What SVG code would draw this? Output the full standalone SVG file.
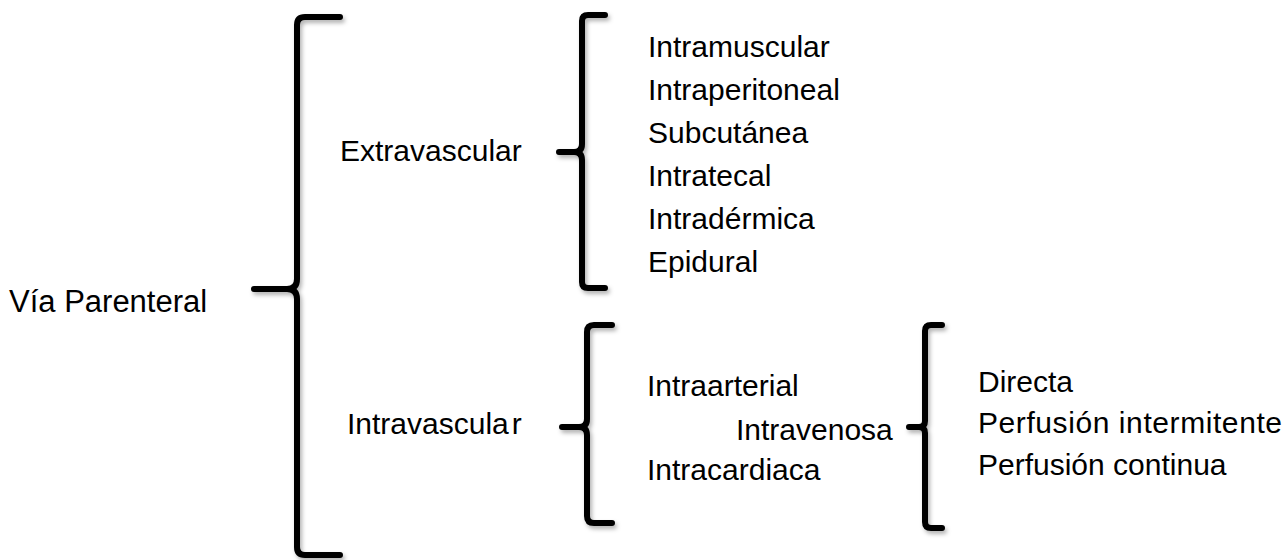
<svg xmlns="http://www.w3.org/2000/svg" width="1287" height="560" viewBox="0 0 1287 560">
  <defs>
    <filter id="soft" x="-20%" y="-5%" width="160%" height="115%">
      <feDropShadow dx="2" dy="3" stdDeviation="2" flood-color="#000" flood-opacity="0.3"/>
    </filter>
    <style>
      .lbl { font-family: "Liberation Sans", Arial, sans-serif; font-size: 30px; fill: #000; }
      .brace { fill: none; stroke: #000; stroke-width: 6; stroke-linecap: round; stroke-linejoin: round; filter: url(#soft); }
    </style>
  </defs>
  <rect width="1287" height="560" fill="#fff"/>

  <!-- braces -->
  <g id="connectors">
    <path class="brace" d="M340,17 H305 Q297,17 297,25 V279 Q297,289 287,289 H254 M287,289 Q297,289 297,299 V547 Q297,555 305,555 H340"/>
    <path class="brace" d="M605,15 H588 Q582,15 582,21 V144 Q582,152 574,152 H559 M574,152 Q582,152 582,160 V282 Q582,288 588,288 H605"/>
    <path class="brace" d="M612,325 H594 Q587,325 587,332 V419 Q587,427 579,427 H562 M579,427 Q587,427 587,435 V516 Q587,523 594,523 H612"/>
    <path class="brace" d="M942,325 H931 Q925,325 925,331 V421 Q925,427 919,427 H909 M919,427 Q925,427 925,433 V522 Q925,528 931,528 H942"/>
  </g>

  <g id="via-parenteral"><text class="lbl" x="9" y="312" style="font-size:31px">Vía Parenteral</text></g>
  <g id="extravascular"><text class="lbl" x="340" y="161">Extravascular</text></g>
  <g id="intravascular"><text class="lbl" x="347" y="434">Intravascula<tspan dx="3">r</tspan></text></g>

  <g id="extravascular-routes">
    <text class="lbl" x="648" y="57">Intramuscular</text>
    <text class="lbl" x="648" y="100">Intraperitoneal</text>
    <text class="lbl" x="648" y="143">Subcutánea</text>
    <text class="lbl" x="648" y="186">Intratecal</text>
    <text class="lbl" x="648" y="229">Intradérmica</text>
    <text class="lbl" x="648" y="272">Epidural</text>
  </g>

  <g id="intravascular-routes">
    <text class="lbl" x="647" y="396">Intraarterial</text>
    <text class="lbl" x="736" y="440">Intravenosa</text>
    <text class="lbl" x="647" y="480">Intracardiaca</text>
  </g>

  <g id="intravenosa-modes">
    <text class="lbl" x="978" y="392">Directa</text>
    <text class="lbl" x="978" y="433" textLength="304" lengthAdjust="spacing">Perfusión intermitente</text>
    <text class="lbl" x="978" y="475">Perfusión continua</text>
  </g>
</svg>
